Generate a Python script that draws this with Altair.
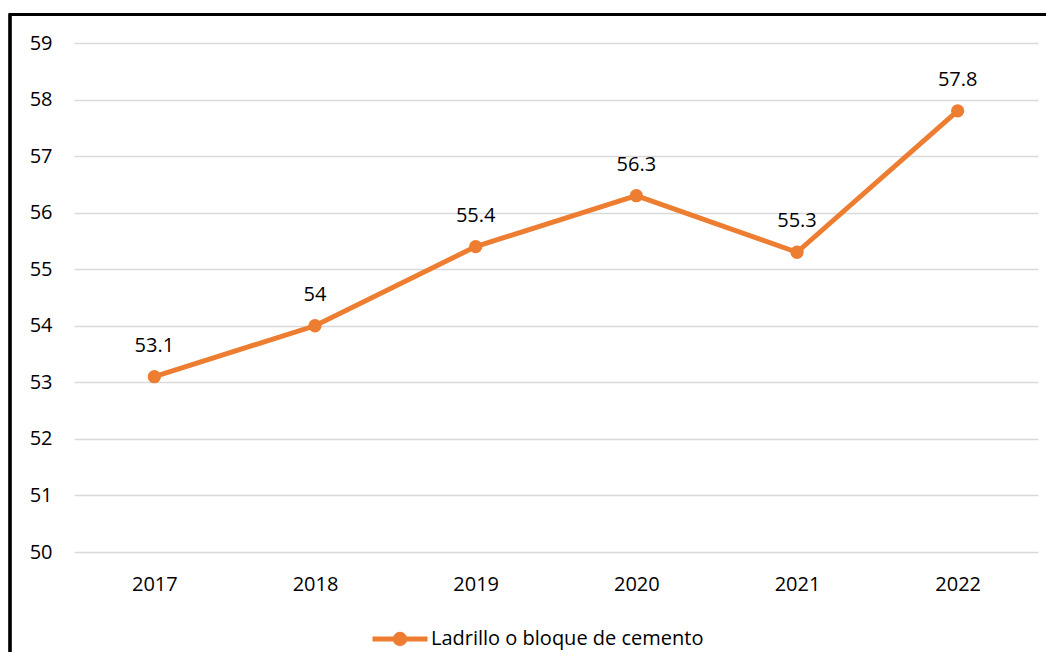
import altair as alt
import pandas as pd

years = ["2017", "2018", "2019", "2020", "2021", "2022"]
values = [53.1, 54.0, 55.4, 56.3, 55.3, 57.8]
labels = ["53.1", "54", "55.4", "56.3", "55.3", "57.8"]
series = "Ladrillo o bloque de cemento"
y_ticks = [50, 51, 52, 53, 54, 55, 56, 57, 58, 59]

df = pd.DataFrame({"year": years, "value": values, "label": labels, "serie": [series] * len(years)})

ORANGE = "#ED7D31"
FONT = "Open Sans"

x_enc = alt.X("year:N", sort=years, title=None,
              scale=alt.Scale(paddingInner=0, paddingOuter=0),
              axis=alt.Axis(labelAngle=0, domain=False, ticks=False, labelPadding=22,
                            labelFontSize=20, labelFont=FONT, labelColor="#000000", grid=False))
y_enc = alt.Y("value:Q", title=None,
              scale=alt.Scale(domain=[50, 59], nice=False, zero=False),
              axis=alt.Axis(values=y_ticks, format="d", domain=False, ticks=False, labelPadding=22,
                            labelFontSize=20, labelFont=FONT, labelColor="#000000",
                            gridColor="#D9D9D9", gridWidth=1.5))

legend_path = ("M-1,0 L1,0 "
               "M-0.17,0 A0.17,0.17 0 1,1 0.17,0 A0.17,0.17 0 1,1 -0.17,0 Z")

line = alt.Chart(df).mark_line(strokeWidth=5).encode(
    x=x_enc, y=y_enc,
    color=alt.Color("serie:N", scale=alt.Scale(range=[ORANGE]),
                    legend=alt.Legend(title=None, orient="none", legendX=296, legendY=566,
                                      symbolType=legend_path, symbolSize=3025,
                                      symbolStrokeWidth=5, symbolFillColor=ORANGE,
                                      symbolStrokeColor=ORANGE, symbolOpacity=1,
                                      labelFontSize=20, labelFont=FONT, labelColor="#000000",
                                      labelOffset=1, labelLimit=0)),
)
points = alt.Chart(df).mark_point(filled=True, size=177, opacity=1, color=ORANGE).encode(
    x=alt.X("year:N", sort=years), y="value:Q"
)
text = alt.Chart(df).mark_text(fontSize=20, font=FONT, color="#000000", baseline="alphabetic", dy=-25).encode(
    x=alt.X("year:N", sort=years), y="value:Q", text="label:N"
)

frame_top = alt.Chart(df).mark_rule(color="#000000", strokeWidth=2.5).encode(
    x=alt.value(-64), x2=alt.value(1100), y=alt.value(-28.5)
)
frame_left = alt.Chart(df).mark_rule(color="#000000", strokeWidth=2.5).encode(
    x=alt.value(-64), y=alt.value(-29.5), y2=alt.value(700)
)

chart = alt.layer(frame_top, frame_left, line, points, text).properties(
    width=964, height=509,
    background="#FFFFFF",
    autosize=alt.AutoSizeParams(type="none"),
    padding={"left": 66, "top": 35, "right": 8, "bottom": 100},
).configure_view(strokeWidth=0, stroke=None)

chart.save("out.html", embed_options={"renderer": "svg", "actions": False})
